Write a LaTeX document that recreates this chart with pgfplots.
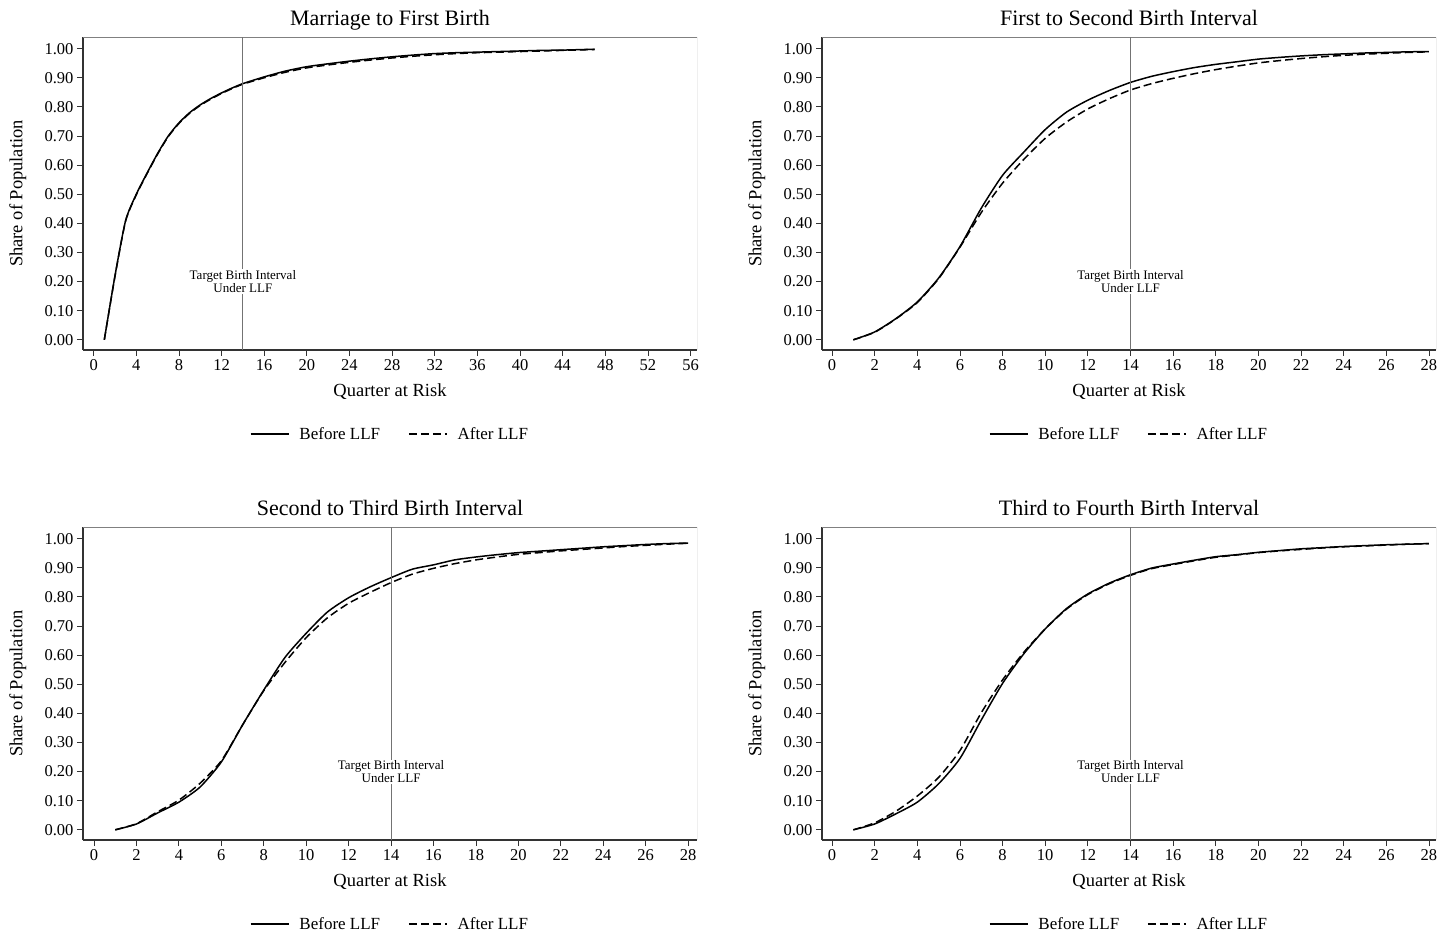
\documentclass[border=0pt]{standalone}
\usepackage{fontspec}
\setmainfont{Liberation Serif}
\usepackage{pgfplots}
\usepackage{pgfplotstable}
\pgfplotsset{compat=1.18}

\pgfplotstableread{
x b a
1 0.000 0.000
2 0.220 0.218
3 0.410 0.408
4 0.500 0.498
5 0.572 0.570
6 0.640 0.638
7 0.700 0.698
8 0.745 0.743
9 0.780 0.778
10 0.807 0.805
11 0.829 0.827
12 0.848 0.846
13 0.865 0.863
14 0.880 0.878
16 0.903 0.900
18 0.923 0.919
20 0.938 0.934
22 0.948 0.944
24 0.957 0.953
26 0.965 0.961
28 0.972 0.968
30 0.978 0.974
32 0.983 0.979
34 0.986 0.983
36 0.988 0.986
38 0.990 0.988
40 0.992 0.990
42 0.994 0.992
44 0.995 0.994
46 0.997 0.996
47 0.998 0.997
}\tA

\pgfplotstableread{
x b a
1 0.000 0.000
2 0.027 0.026
3 0.073 0.072
4 0.130 0.128
5 0.212 0.210
6 0.320 0.318
7 0.452 0.437
8 0.565 0.538
9 0.645 0.620
10 0.722 0.692
11 0.782 0.748
12 0.823 0.793
13 0.856 0.828
14 0.884 0.858
15 0.905 0.880
16 0.921 0.898
17 0.935 0.914
18 0.946 0.928
19 0.955 0.940
20 0.964 0.951
21 0.970 0.959
22 0.975 0.966
23 0.979 0.972
24 0.982 0.977
25 0.985 0.981
26 0.987 0.984
27 0.989 0.987
28 0.990 0.989
}\tB

\pgfplotstableread{
x b a
1 0.000 0.000
2 0.020 0.021
3 0.058 0.062
4 0.095 0.102
5 0.147 0.160
6 0.233 0.237
7 0.360 0.360
8 0.480 0.478
9 0.592 0.575
10 0.675 0.660
11 0.748 0.728
12 0.797 0.778
13 0.834 0.815
14 0.866 0.849
15 0.895 0.878
16 0.910 0.898
17 0.927 0.914
18 0.937 0.927
19 0.945 0.937
20 0.952 0.946
21 0.957 0.952
22 0.962 0.958
23 0.967 0.963
24 0.972 0.968
25 0.976 0.973
26 0.980 0.977
27 0.983 0.981
28 0.985 0.984
}\tC

\pgfplotstableread{
x b a
1 0.000 0.000
2 0.020 0.024
3 0.055 0.064
4 0.095 0.116
5 0.158 0.180
6 0.245 0.272
7 0.377 0.402
8 0.503 0.515
9 0.605 0.610
10 0.690 0.690
11 0.760 0.758
12 0.810 0.808
13 0.847 0.845
14 0.876 0.874
15 0.899 0.897
16 0.913 0.911
17 0.926 0.924
18 0.938 0.936
19 0.945 0.944
20 0.953 0.952
21 0.959 0.958
22 0.965 0.963
23 0.969 0.968
24 0.973 0.972
25 0.976 0.975
26 0.979 0.978
27 0.981 0.981
28 0.983 0.983
}\tD

\pgfplotsset{
  panel/.style={
    scale only axis, width=614pt, height=313pt,
    axis lines*=left,
    axis line style={-, line width=1.3pt, black!80},
    ymin=-0.035, ymax=1.04,
    ytick={0,0.1,0.2,0.3,0.4,0.5,0.6,0.7,0.8,0.9,1},
    yticklabel style={/pgf/number format/.cd, fixed, fixed zerofill, precision=2},
    /pgf/number format/assume math mode=true,
    tick align=outside, major tick length=6pt,
    tick style={black!80, line width=0.8pt},
    tick label style={font=\fontsize{16.5}{18}\selectfont},
    xlabel={Quarter at Risk}, ylabel={Share of Population},
    label style={font=\fontsize{18.5}{20}\selectfont},
    xlabel style={at={(axis description cs:0.5,-0.134)}, anchor=center},
    ylabel style={at={(axis description cs:-0.106,0.5)}, anchor=center},
    title style={font=\fontsize{22}{24}\selectfont, at={(axis description cs:0.5,1)}, anchor=base, yshift=5pt},
    legend style={at={(axis description cs:0.5,-0.268)}, anchor=center, draw=none,
      legend columns=2, font=\fontsize{17}{19}\selectfont,
      /tikz/every odd column/.append style={column sep=8pt},
      /tikz/every even column/.append style={column sep=26pt}},
    legend image code/.code={\draw[##1] (0pt,0pt) -- (38pt,0pt);},
  },
  before/.style={black, line width=1.5pt, smooth, tension=0.4},
  after/.style={black, line width=1.5pt, dash pattern=on 8pt off 4pt, smooth, tension=0.4},
  vline/.style={black!55, line width=0.8pt, forget plot},
}
\newcommand{\frameTR}{\draw[black!50, line width=0.8pt] (rel axis cs:0,1) -- (rel axis cs:1,1) -- (rel axis cs:1,0);}
\newcommand{\target}{\node[align=center, fill=white, inner sep=1pt, font=\fontsize{13}{13}\selectfont] at (axis cs:14,0.20) {Target Birth Interval\\Under LLF};}

\begin{document}
\begin{tikzpicture}
\path[use as bounding box] (0pt,0pt) rectangle (1438pt,935pt);

\begin{axis}[panel, at={(83pt,585pt)}, anchor=south west,
  title={Marriage to First Birth},
  xmin=-1, xmax=56.6, xtick={0,4,...,56}]
  \frameTR
  \addplot[before] table[x=x,y=b] {\tA};
  \addplot[after] table[x=x,y=a] {\tA};
  \addplot[vline] coordinates {(14,-0.035) (14,1.04)};
  \target
  \legend{Before LLF, After LLF}
\end{axis}

\begin{axis}[panel, at={(822pt,585pt)}, anchor=south west,
  title={First to Second Birth Interval},
  xmin=-0.47, xmax=28.33, xtick={0,2,...,28}]
  \frameTR
  \addplot[before] table[x=x,y=b] {\tB};
  \addplot[after] table[x=x,y=a] {\tB};
  \addplot[vline] coordinates {(14,-0.035) (14,1.04)};
  \target
  \legend{Before LLF, After LLF}
\end{axis}

\begin{axis}[panel, at={(83pt,95pt)}, anchor=south west,
  title={Second to Third Birth Interval},
  xmin=-0.52, xmax=28.42, xtick={0,2,...,28}]
  \frameTR
  \addplot[before] table[x=x,y=b] {\tC};
  \addplot[after] table[x=x,y=a] {\tC};
  \addplot[vline] coordinates {(14,-0.035) (14,1.04)};
  \target
  \legend{Before LLF, After LLF}
\end{axis}

\begin{axis}[panel, at={(822pt,95pt)}, anchor=south west,
  title={Third to Fourth Birth Interval},
  xmin=-0.47, xmax=28.33, xtick={0,2,...,28}]
  \frameTR
  \addplot[before] table[x=x,y=b] {\tD};
  \addplot[after] table[x=x,y=a] {\tD};
  \addplot[vline] coordinates {(14,-0.035) (14,1.04)};
  \target
  \legend{Before LLF, After LLF}
\end{axis}
\end{tikzpicture}
\end{document}
